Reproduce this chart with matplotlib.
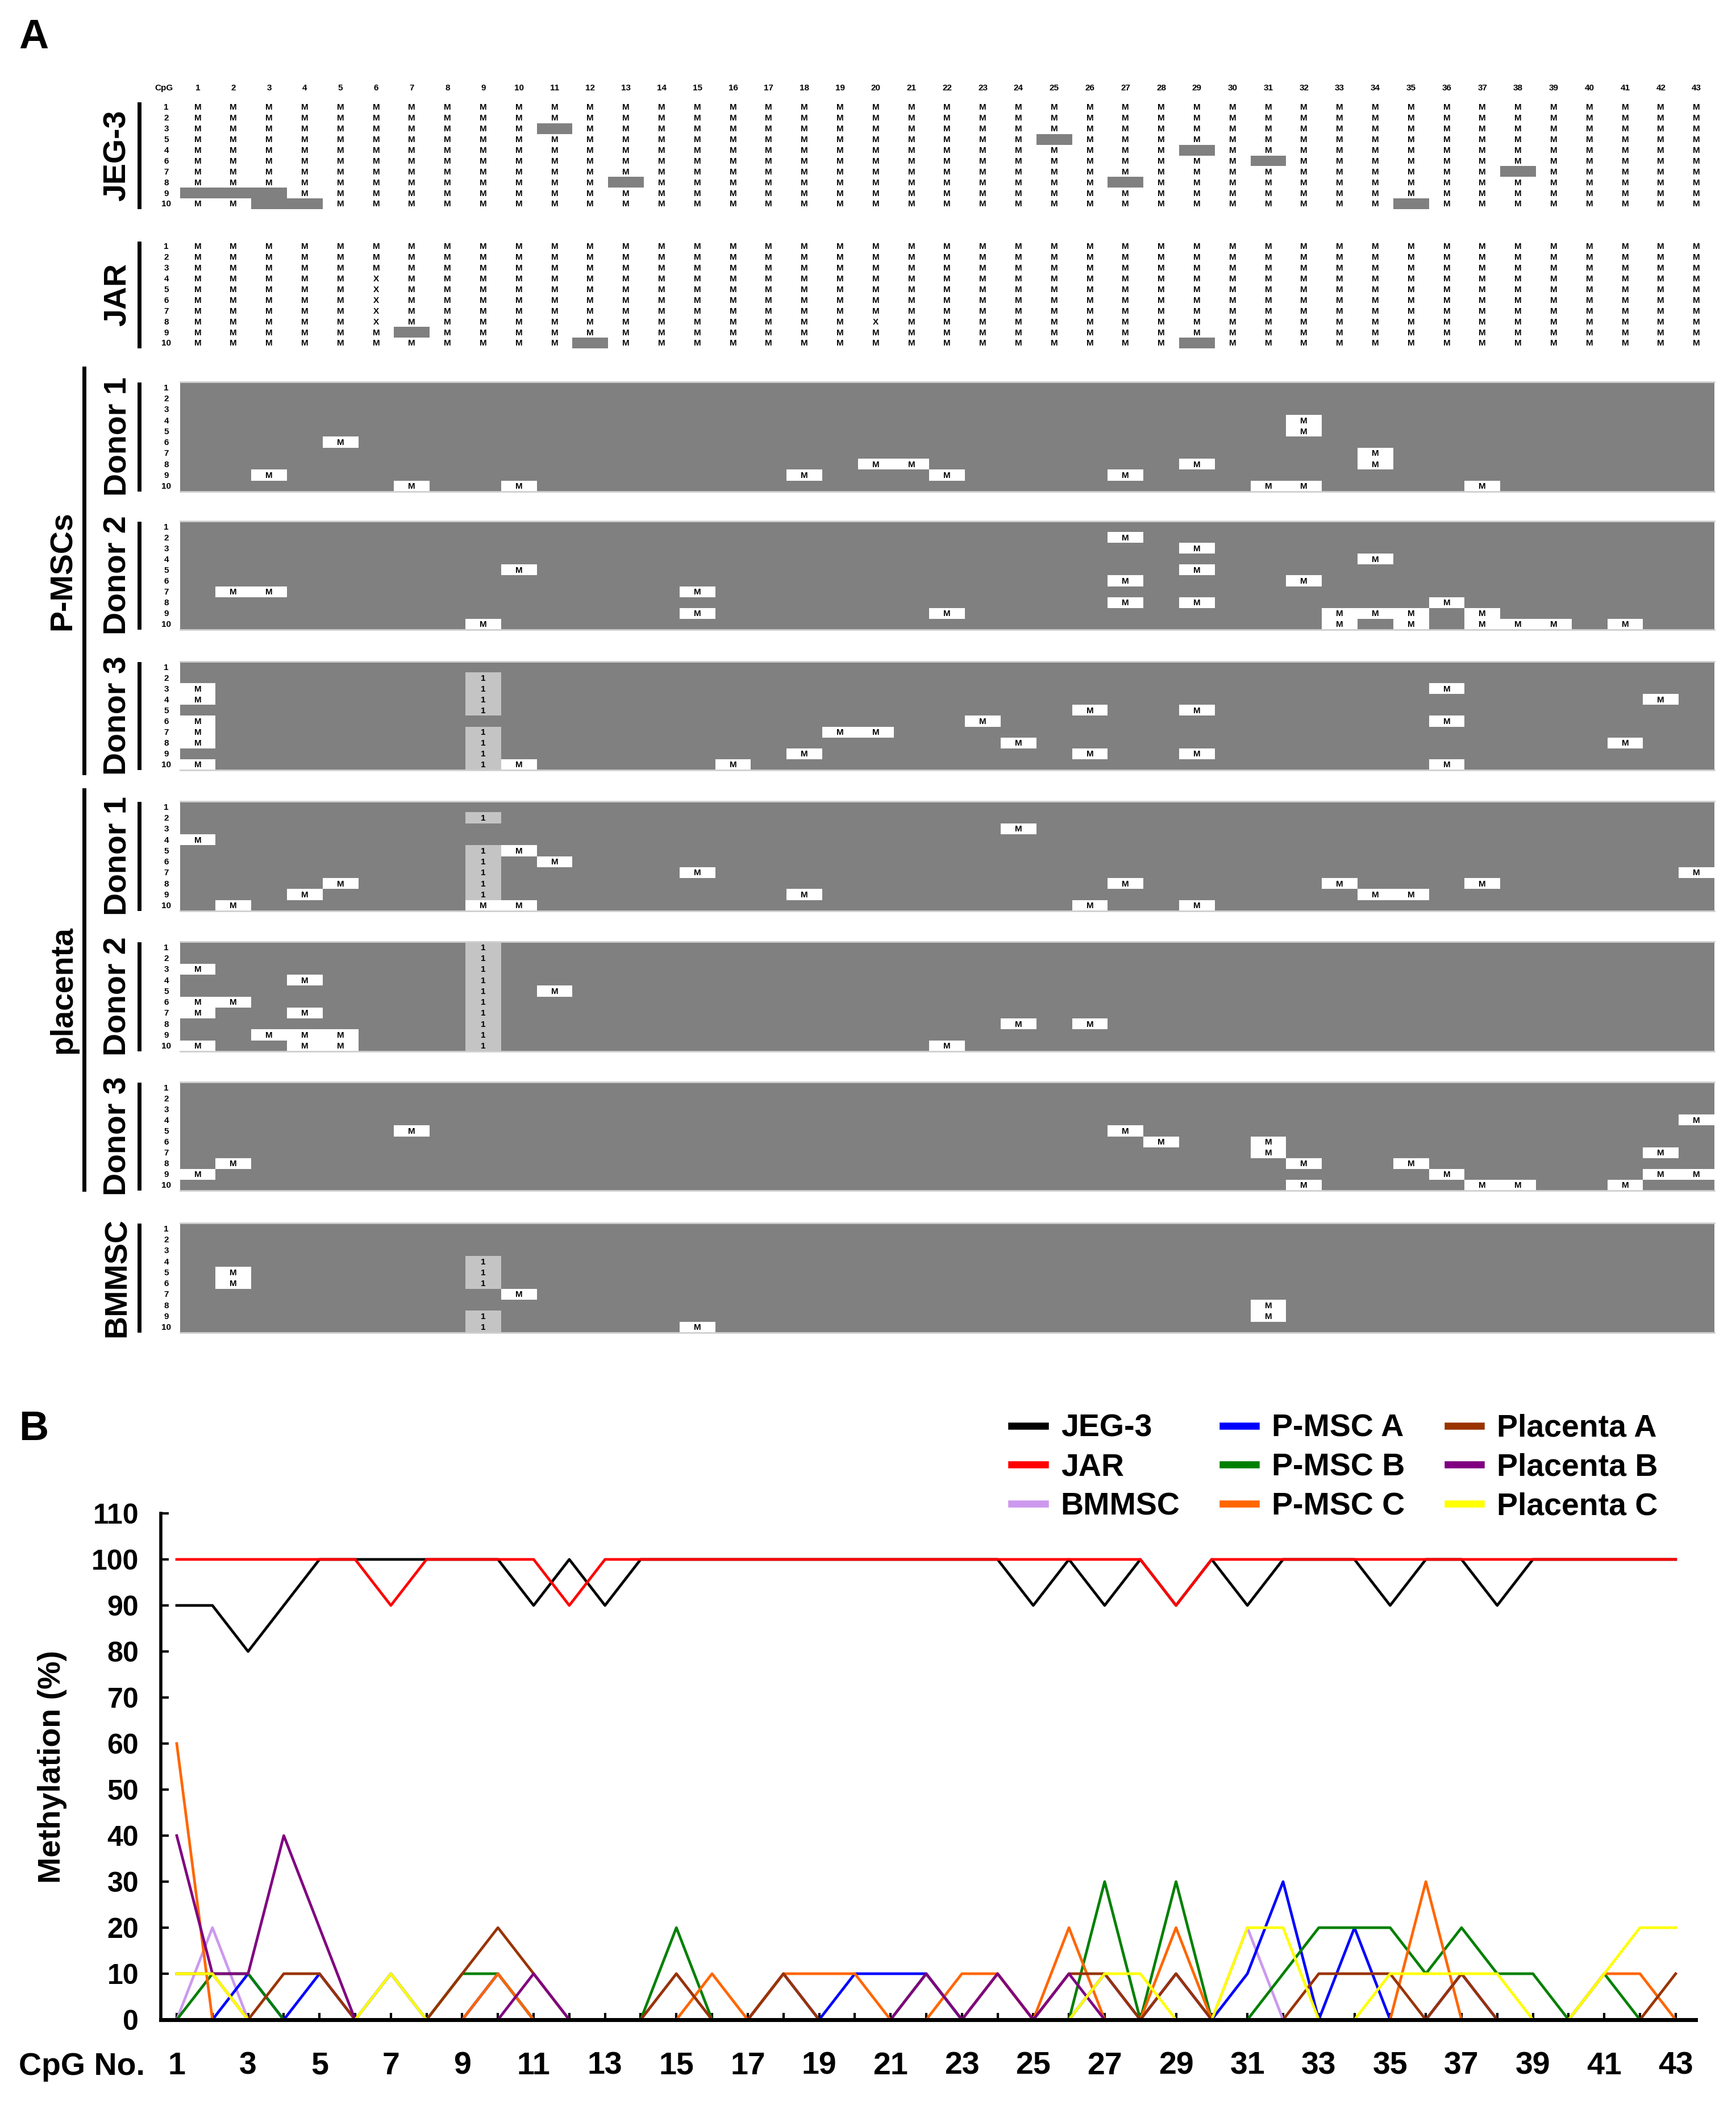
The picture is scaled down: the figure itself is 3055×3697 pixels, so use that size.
import numpy as np
import matplotlib
matplotlib.use('Agg')
import matplotlib.pyplot as plt
from matplotlib.colors import ListedColormap
from matplotlib.lines import Line2D

# ---------------- data ----------------
n_cpg = 43
n_clone = 10
cpg = list(range(1, n_cpg + 1))

# panel A: JEG-3 / JAR -> clones NOT methylated at a CpG (grey bars), {cpg: [clones]}
jeg3_unmeth = {1: [9], 2: [9], 3: [9, 10], 4: [10], 11: [3], 13: [8], 25: [4],
               27: [8], 29: [5], 31: [6], 35: [10], 38: [7]}
jar_unmeth = {7: [9], 12: [10], 29: [10]}
jar_x = {6: [4, 5, 6, 7, 8], 20: [8]}

# panel A: MSC / placenta -> methylated clones (white "M" boxes) and "1" cells
pmsc1_meth = {3: [9], 5: [6], 7: [10], 10: [10], 18: [9], 20: [8], 21: [8], 22: [9],
              27: [9], 29: [8], 31: [10], 32: [4, 5, 10], 34: [7, 8], 37: [10]}
pmsc2_meth = {2: [7], 3: [7], 9: [10], 10: [5], 15: [7, 9], 22: [9], 27: [2, 6, 8],
              29: [3, 5, 8], 32: [6], 33: [9, 10], 34: [4, 9], 35: [9, 10], 36: [8],
              37: [9, 10], 38: [10], 39: [10], 41: [10]}
pmsc3_meth = {1: [3, 4, 6, 7, 8, 10], 10: [10], 16: [10], 18: [9], 19: [7], 20: [7],
              23: [6], 24: [8], 26: [5, 9], 29: [5, 9], 36: [3, 6, 10], 41: [8], 42: [4]}
pmsc3_one = {9: [2, 3, 4, 5, 7, 8, 9, 10]}
plac1_meth = {1: [4], 2: [10], 4: [9], 5: [8], 9: [10], 10: [5, 10], 11: [6], 15: [7],
              18: [9], 24: [3], 26: [10], 27: [8], 29: [10], 33: [8], 34: [9], 35: [9],
              37: [8], 43: [7]}
plac1_one = {9: [2, 5, 6, 7, 8, 9]}
plac2_meth = {1: [3, 6, 7, 10], 2: [6], 3: [9], 4: [4, 7, 9, 10], 5: [9, 10], 11: [5],
              22: [10], 24: [8], 26: [8]}
plac2_one = {9: [1, 2, 3, 4, 5, 6, 7, 8, 9, 10]}
plac3_meth = {1: [9], 2: [8], 7: [5], 27: [5], 28: [6], 31: [6, 7], 32: [8, 10], 35: [8],
              36: [9], 37: [10], 38: [10], 41: [10], 42: [7, 9], 43: [4, 9]}
bm_meth = {2: [5, 6], 10: [7], 15: [10], 31: [8, 9]}
bm_one = {9: [4, 5, 6, 9, 10]}

jeg3_rows = ['1', '2', '3', '5', '4', '6', '7', '8', '9', '10']
clone_rows = [str(i) for i in range(1, 11)]

# panel B: methylation (%) per CpG
jeg3 = [90, 90, 80, 90, 100, 100, 100, 100, 100, 100,
        90, 100, 90, 100, 100, 100, 100, 100, 100, 100,
        100, 100, 100, 100, 90, 100, 90, 100, 90, 100,
        90, 100, 100, 100, 90, 100, 100, 90, 100, 100,
        100, 100, 100]
jar = [100, 100, 100, 100, 100, 100, 90, 100, 100, 100,
       100, 90, 100, 100, 100, 100, 100, 100, 100, 100,
       100, 100, 100, 100, 100, 100, 100, 100, 90, 100,
       100, 100, 100, 100, 100, 100, 100, 100, 100, 100,
       100, 100, 100]
bmmsc = [0, 20, 0, 0, 0, 0, 0, 0, 0, 10,
         0, 0, 0, 0, 10, 0, 0, 0, 0, 0,
         0, 0, 0, 0, 0, 0, 0, 0, 0, 0,
         20, 0, 0, 0, 0, 0, 0, 0, 0, 0,
         0, 0, 0]
pmsc_a = [0, 0, 10, 0, 10, 0, 10, 0, 0, 10,
          0, 0, 0, 0, 0, 0, 0, 10, 0, 10,
          10, 10, 0, 0, 0, 0, 10, 0, 10, 0,
          10, 30, 0, 20, 0, 0, 10, 0, 0, 0,
          0, 0, 0]
pmsc_b = [0, 10, 10, 0, 0, 0, 0, 0, 10, 10,
          0, 0, 0, 0, 20, 0, 0, 0, 0, 0,
          0, 10, 0, 0, 0, 0, 30, 0, 30, 0,
          0, 10, 20, 20, 20, 10, 20, 10, 10, 0,
          10, 0, 0]
pmsc_c = [60, 0, 0, 0, 0, 0, 0, 0, 0, 10,
          0, 0, 0, 0, 0, 10, 0, 10, 10, 10,
          0, 0, 10, 10, 0, 20, 0, 0, 20, 0,
          0, 0, 0, 0, 0, 30, 0, 0, 0, 0,
          10, 10, 0]
plac_a = [10, 10, 0, 10, 10, 0, 0, 0, 10, 20,
          10, 0, 0, 0, 10, 0, 0, 10, 0, 0,
          0, 0, 0, 10, 0, 10, 10, 0, 10, 0,
          0, 0, 10, 10, 10, 0, 10, 0, 0, 0,
          0, 0, 10]
plac_b = [40, 10, 10, 40, 20, 0, 0, 0, 0, 0,
          10, 0, 0, 0, 0, 0, 0, 0, 0, 0,
          0, 10, 0, 10, 0, 10, 0, 0, 0, 0,
          0, 0, 0, 0, 0, 0, 0, 0, 0, 0,
          0, 0, 0]
plac_c = [10, 10, 0, 0, 0, 0, 10, 0, 0, 0,
          0, 0, 0, 0, 0, 0, 0, 0, 0, 0,
          0, 0, 0, 0, 0, 0, 10, 10, 0, 0,
          20, 20, 0, 0, 10, 10, 10, 10, 0, 0,
          10, 20, 20]

series = [('JEG-3', jeg3, 'black'), ('JAR', jar, '#ff0000'), ('BMMSC', bmmsc, '#cc99ee'),
          ('P-MSC A', pmsc_a, '#0000ff'), ('P-MSC B', pmsc_b, '#008000'),
          ('P-MSC C', pmsc_c, '#ff6600'), ('Placenta A', plac_a, '#993300'),
          ('Placenta B', plac_b, '#800080'), ('Placenta C', plac_c, '#ffff00')]

# ---------------- figure ----------------
W, H = 3055, 3697
plt.rcParams['font.family'] = ['Liberation Sans', 'DejaVu Sans']
fig = plt.figure(figsize=(W / 100, H / 100), dpi=100)

small = dict(family=['Liberation Sans Narrow', 'Liberation Sans', 'DejaVu Sans'],
             fontweight='bold', fontsize=11, ha='center', va='center')
cmap = ListedColormap(['white', '#808080', '#c4c4c4'])
grid_left, grid_right = 316.6, 3017.0


def fill_grid(grid, cells, value):
    for c, rows in cells.items():
        for r in rows:
            grid[r - 1, c - 1] = value
    return grid


def draw_block(top, bottom, grid, letters, row_labels, outline=False):
    ax = fig.add_axes([grid_left / W, 1 - bottom / H, (grid_right - grid_left) / W,
                       (bottom - top) / H])
    ax.pcolormesh(np.arange(0.5, n_cpg + 1), np.arange(0.5, n_clone + 1), grid,
                  cmap=cmap, vmin=0, vmax=2)
    ax.set_xlim(0.5, n_cpg + 0.5)
    ax.set_ylim(n_clone + 0.5, 0.5)
    ax.set_xticks([])
    ax.set_yticks([])
    for s in ax.spines.values():
        s.set_visible(False)
    if outline:
        for s in ('top', 'bottom'):
            ax.spines[s].set_visible(True)
            ax.spines[s].set_color('#cfcfcf')
            ax.spines[s].set_linewidth(2)
    for r in range(n_clone):
        for c in range(n_cpg):
            if letters[r][c]:
                ax.text(c + 1, r + 1.05, letters[r][c], **small)
        ax.text(0.12, r + 1.05, row_labels[r], clip_on=False, **small)
    return ax


# JEG-3
g = fill_grid(np.zeros((n_clone, n_cpg), dtype=int), jeg3_unmeth, 1)
let = [['M' if g[r, c] == 0 else '' for c in range(n_cpg)] for r in range(n_clone)]
ax_jeg = draw_block(179, 368, g, let, jeg3_rows)
ax_jeg.text(0.05, -0.75, 'CpG', clip_on=False, **small)
for c in cpg:
    ax_jeg.text(c, -0.75, str(c), clip_on=False, **small)

# JAR
g = fill_grid(np.zeros((n_clone, n_cpg), dtype=int), jar_unmeth, 1)
let = [['M' if g[r, c] == 0 else '' for c in range(n_cpg)] for r in range(n_clone)]
for c, rows in jar_x.items():
    for r in rows:
        let[r - 1][c - 1] = 'X'
draw_block(424, 613, g, let, clone_rows)

# grey blocks
grey_blocks = [(672, 865, pmsc1_meth, {}), (917, 1108, pmsc2_meth, {}),
               (1164, 1355, pmsc3_meth, pmsc3_one), (1410, 1603, plac1_meth, plac1_one),
               (1657, 1850, plac2_meth, plac2_one), (1904, 2095, plac3_meth, {}),
               (2152, 2345, bm_meth, bm_one)]
for top, bottom, meth, one in grey_blocks:
    g = np.ones((n_clone, n_cpg), dtype=int)
    fill_grid(g, one, 2)
    fill_grid(g, meth, 0)
    let = [[{0: 'M', 1: '', 2: '1'}[g[r, c]] for c in range(n_cpg)] for r in range(n_clone)]
    draw_block(top, bottom, g, let, clone_rows, outline=True)

# left-hand labels with bars
lab = dict(fontweight='bold', fontsize=40, rotation=90, ha='center', va='center')
sample_labels = [('JEG-3', 179, 368), ('JAR', 424, 613), ('Donor 1', 672, 865),
                 ('Donor 2', 917, 1108), ('Donor 3', 1164, 1355), ('Donor 1', 1410, 1603),
                 ('Donor 2', 1657, 1850), ('Donor 3', 1904, 2095), ('BMMSC', 2152, 2345)]
for txt, top, bottom in sample_labels:
    fig.text(207 / W, 1 - (top + bottom) / 2 / H, txt, **lab)
    fig.add_artist(Line2D([245 / W, 245 / W], [1 - (top + 4) / H, 1 - (bottom - 4) / H],
                          color='black', lw=5))
for txt, top, bottom in [('P-MSCs', 648, 1360), ('placenta', 1390, 2093)]:
    fig.text(111 / W, 1 - (top + bottom) / 2 / H, txt, **lab)
    fig.add_artist(Line2D([148 / W, 148 / W], [1 - top / H, 1 - bottom / H],
                          color='black', lw=5))

fig.text(59 / W, 1 - 66 / H, 'A', fontsize=52, fontweight='bold', ha='center', va='center')
fig.text(59 / W, 1 - 2515 / H, 'B', fontsize=52, fontweight='bold', ha='center', va='center')

# ---------------- panel B ----------------
ax = fig.add_axes([283 / W, 1 - 3554 / H, (2984 - 283) / W, (3554 - 2663) / H])
handles = []
for name, vals, col in series:
    ln, = ax.plot(cpg, vals, color=col, lw=3.4, clip_on=False, label=name)
    handles.append(ln)
ax.set_xlim(0.554, 43.56)
ax.set_ylim(0, 110)
ax.set_yticks(range(0, 111, 10))
ax.set_xticks(cpg)
ax.set_xticklabels([str(c) if c % 2 == 1 else '' for c in cpg])
for s in ('top', 'right'):
    ax.spines[s].set_visible(False)
ax.spines['left'].set_linewidth(4)
ax.spines['bottom'].set_linewidth(5)
ax.spines['left'].set_zorder(5)
ax.spines['bottom'].set_zorder(5)
ax.tick_params(axis='y', direction='in', length=10, width=3, labelsize=36, pad=28)
ax.tick_params(axis='x', direction='in', length=9, width=3, labelsize=40, pad=40)
for t in ax.get_xticklabels() + ax.get_yticklabels():
    t.set_fontweight('bold')
ax.set_ylabel('Methylation (%)', fontsize=40, fontweight='bold')
ax.yaxis.set_label_coords(-0.061, 0.5)
fig.text(144 / W, 1 - 3637 / H, 'CpG No.', fontsize=40, fontweight='bold',
         ha='center', va='center')

leg = ax.legend(handles=handles, ncol=3, loc='upper left', bbox_to_anchor=(1780 / W, 1 - 2488 / H),
                bbox_transform=fig.transFigure, frameon=False, borderpad=0, borderaxespad=0,
                handlelength=1.06, handletextpad=0.5, columnspacing=1.35, labelspacing=0.3,
                prop=dict(size=40, weight='bold'))
for h in leg.get_lines():
    h.set_linewidth(9)

fig.savefig('out.png', dpi=100)
